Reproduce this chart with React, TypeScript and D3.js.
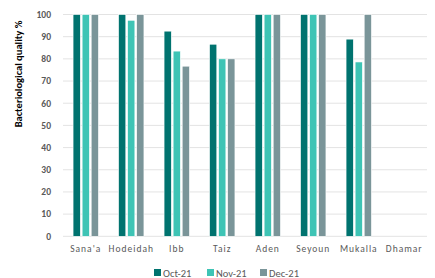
import React from "react";
import * as d3 from "d3";

const categories = ["Sana'a", "Hodeidah", "Ibb", "Taiz", "Aden", "Seyoun", "Mukalla", "Dhamar"];
const seriesNames = ["Oct-21", "Nov-21", "Dec-21"];
const oct21: (number | null)[] = [100, 100, 92.5, 86.6, 100, 100, 88.9, null];
const nov21: (number | null)[] = [100, 97.4, 83.5, 80, 100, 100, 78.6, null];
const dec21: (number | null)[] = [100, 100, 76.7, 80, 100, 100, 100, null];
const yTicks = [0, 10, 20, 30, 40, 50, 60, 70, 80, 90, 100];
const colors = ["#00736F", "#3EC4B5", "#7A9599"];

const W = 435, H = 278;
const left = 63, right = 427, top = 14.5, bottom = 236.3;

export default function App() {
  const series = [oct21, nov21, dec21];
  const x = d3.scaleBand<string>().domain(categories).range([left, right]).paddingInner(0).paddingOuter(0);
  const y = d3.scaleLinear().domain([0, 100]).range([bottom, top]);
  const inner = d3.scaleBand<string>().domain(seriesNames).range([-14.5, 14.5]).padding(0.2);
  const font = "Carlito, Calibri, 'Liberation Sans', Arial, sans-serif";
  return (
    <svg width={W} height={H} style={{ position: "absolute", left: 0, top: 0, background: "#fff" }}>
      {yTicks.map((t) => (
        <g key={t}>
          <line x1={left} x2={right} y1={y(t)} y2={y(t)} stroke="#E3E3E3" strokeWidth={1} />
          <text x={left - 12} y={y(t)} dy="0.35em" textAnchor="end" fontFamily={font} fontWeight="bold" fontSize={9.5} fill="#595959">
            {t}
          </text>
        </g>
      ))}
      {categories.map((c, i) => (
        <g key={c} transform={`translate(${(x(c) ?? 0) + x.bandwidth() / 2},0)`}>
          {series.map((s, j) => {
            const v = s[i];
            if (v == null) return null;
            return (
              <rect
                key={j}
                x={inner(seriesNames[j]) ?? 0}
                width={inner.bandwidth()}
                y={y(v)}
                height={y(0) - y(v)}
                fill={colors[j]}
                stroke="#fff"
                strokeWidth={0.6}
              />
            );
          })}
          <text y={252} textAnchor="middle" fontFamily={font} fontWeight="normal" fontSize={9.5} fill="#595959" letterSpacing="1">
            {c}
          </text>
        </g>
      ))}
      <text transform={`translate(22,${(18 + 130) / 2 + 0}) rotate(-90)`} textAnchor="middle" fontFamily={font} fontWeight="bold" fontSize={10.5} fill="#000">
        Bacteriological quality %
      </text>
      {seriesNames.map((n, j) => {
        const lx = [154, 207, 260][j];
        return (
          <g key={n}>
            <rect x={lx} y={269} width={7} height={7} fill={colors[j]} />
            <text x={lx + 9} y={276.5} fontFamily={font} fontSize={10.5} fill="#595959">
              {n}
            </text>
          </g>
        );
      })}
    </svg>
  );
}
